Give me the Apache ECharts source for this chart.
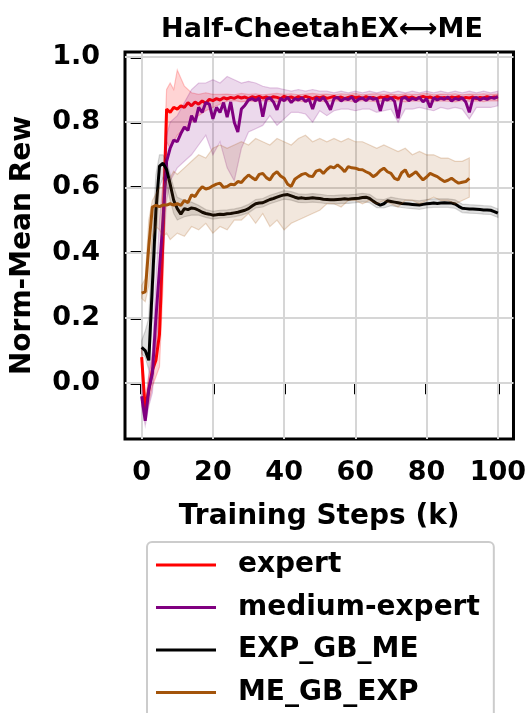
<!DOCTYPE html>
<html lang="en">
<head>
    <meta charset="UTF-8">
    <title>Half-Cheetah EX/ME</title>
    <script src="https://cdn.jsdelivr.net/npm/echarts@6.0.0/dist/echarts.min.js"></script>
    <style>
        html, body { margin: 0; padding: 0; background: #fff; }
        #chart1 { width: 529px; height: 713px; }
    </style>
</head>
<body>
<div id="chart1"></div>
<script type="text/javascript">
    // training steps (k) for the mean curves
    var steps = [];
    for (var s = 0; s <= 100; s++) steps.push(s);

    var expert = [0.08, -0.08, -0.02, 0.04, 0.07, 0.15, 0.45, 0.84, 0.83, 0.845,
        0.84, 0.85, 0.845, 0.86, 0.85, 0.862, 0.855, 0.865, 0.858, 0.87,
        0.866, 0.872, 0.868, 0.875, 0.871, 0.876, 0.873, 0.878, 0.874, 0.877,
        0.872, 0.878, 0.875, 0.879, 0.874, 0.877, 0.873, 0.878, 0.876, 0.872,
        0.879, 0.875, 0.877, 0.873, 0.878, 0.874, 0.879, 0.876, 0.872, 0.877,
        0.875, 0.878, 0.873, 0.876, 0.879, 0.874, 0.877, 0.872, 0.876, 0.879,
        0.875, 0.877, 0.873, 0.878, 0.874, 0.876, 0.872, 0.877, 0.875, 0.879,
        0.874, 0.877, 0.873, 0.876, 0.878, 0.874, 0.877, 0.872, 0.876, 0.879,
        0.875, 0.877, 0.873, 0.878, 0.874, 0.876, 0.872, 0.877, 0.875, 0.878,
        0.873, 0.876, 0.874, 0.877, 0.872, 0.876, 0.874, 0.878, 0.875, 0.877, 0.876];

    var mediumExpert = [-0.04, -0.115, -0.02, 0.03, 0.2, 0.35, 0.5, 0.68, 0.72, 0.745,
        0.74, 0.765, 0.785, 0.775, 0.82, 0.80, 0.845, 0.83, 0.86, 0.855,
        0.81, 0.845, 0.83, 0.86, 0.815, 0.862, 0.80, 0.77, 0.84, 0.852,
        0.868, 0.872, 0.866, 0.874, 0.817, 0.87, 0.875, 0.862, 0.838, 0.873,
        0.866, 0.876, 0.86, 0.872, 0.868, 0.875, 0.863, 0.871, 0.84, 0.874,
        0.866, 0.876, 0.86, 0.838, 0.872, 0.876, 0.865, 0.873, 0.869, 0.877,
        0.862, 0.871, 0.874, 0.866, 0.876, 0.87, 0.873, 0.835, 0.872, 0.868,
        0.875, 0.864, 0.812, 0.872, 0.876, 0.866, 0.873, 0.869, 0.876, 0.862,
        0.872, 0.845, 0.875, 0.868, 0.874, 0.87, 0.877, 0.865, 0.873, 0.869,
        0.875, 0.862, 0.83, 0.872, 0.876, 0.868, 0.874, 0.87, 0.876, 0.873, 0.878];

    var expGbMe = [0.11, 0.1, 0.07, 0.3, 0.53, 0.665, 0.674, 0.655, 0.61, 0.56,
        0.535, 0.518, 0.535, 0.532, 0.537, 0.535, 0.53, 0.524, 0.52, 0.518,
        0.515, 0.516, 0.518, 0.517, 0.519, 0.52, 0.522, 0.524, 0.527, 0.53,
        0.535, 0.543, 0.55, 0.552, 0.553, 0.558, 0.563, 0.566, 0.57, 0.574,
        0.577, 0.578, 0.574, 0.57, 0.567, 0.568, 0.566, 0.567, 0.568, 0.567,
        0.566, 0.564, 0.563, 0.562, 0.562, 0.563, 0.564, 0.565, 0.564, 0.565,
        0.566, 0.567, 0.569, 0.57, 0.566, 0.558, 0.551, 0.546, 0.55, 0.559,
        0.557, 0.555, 0.553, 0.551, 0.55, 0.549, 0.548, 0.547, 0.546, 0.548,
        0.55, 0.551, 0.552, 0.551, 0.552, 0.553, 0.552, 0.552, 0.549, 0.542,
        0.536, 0.535, 0.534, 0.534, 0.533, 0.532, 0.531, 0.531, 0.53, 0.526, 0.521];

    // ME_GB_EXP stops at 92k
    var meGbExp = [0.276, 0.28, 0.42, 0.54, 0.545, 0.541, 0.546, 0.546, 0.55, 0.546,
        0.55, 0.545, 0.56, 0.553, 0.577, 0.572, 0.59, 0.602, 0.595, 0.598,
        0.605, 0.61, 0.613, 0.6, 0.603, 0.61, 0.608, 0.618, 0.615, 0.628,
        0.638, 0.63, 0.623, 0.64, 0.643, 0.63, 0.623, 0.64, 0.648, 0.635,
        0.628, 0.61, 0.603, 0.625, 0.633, 0.64, 0.643, 0.635, 0.633, 0.65,
        0.654, 0.643, 0.655, 0.664, 0.66, 0.669, 0.66, 0.648, 0.664, 0.66,
        0.659, 0.655, 0.654, 0.648, 0.643, 0.633, 0.64, 0.652, 0.659, 0.648,
        0.643, 0.628, 0.623, 0.645, 0.654, 0.633, 0.64, 0.648, 0.635, 0.623,
        0.632, 0.643, 0.638, 0.633, 0.625, 0.618, 0.622, 0.628, 0.62, 0.613,
        0.616, 0.618, 0.628];

    // steps for the shaded spread bands
    var bandSteps = [0, 1, 2, 3, 4, 5, 6, 7, 8, 9, 10,
        12, 14, 16, 18, 20, 22, 24, 26, 28, 30, 32, 34, 36, 38, 40,
        42, 44, 46, 48, 50, 52, 54, 56, 58, 60, 62, 64, 66, 68, 70,
        72, 74, 76, 78, 80, 82, 84, 86, 88, 90, 92, 94, 96, 98, 100];

    var expertLo = [0.05, -0.10, -0.06, -0.01, 0.02, 0.05, 0.30, 0.74, 0.72, 0.74, 0.76,
        0.78, 0.80, 0.82, 0.835, 0.845, 0.855, 0.864, 0.866, 0.862, 0.865, 0.863, 0.866, 0.864, 0.862, 0.866,
        0.864, 0.865, 0.862, 0.866, 0.864, 0.863, 0.866, 0.864, 0.865, 0.862, 0.866, 0.864, 0.863, 0.865, 0.864,
        0.866, 0.862, 0.865, 0.864, 0.866, 0.863, 0.865, 0.864, 0.862, 0.866, 0.864, 0.865, 0.863, 0.866, 0.865];
    var expertHi = [0.11, -0.05, 0.02, 0.08, 0.12, 0.30, 0.62, 0.90, 0.92, 0.90, 0.96,
        0.91, 0.89, 0.885, 0.89, 0.885, 0.885, 0.886, 0.884, 0.888, 0.885, 0.887, 0.884, 0.886, 0.888, 0.885,
        0.887, 0.884, 0.886, 0.888, 0.885, 0.886, 0.884, 0.887, 0.885, 0.888, 0.884, 0.886, 0.887, 0.885, 0.886,
        0.884, 0.887, 0.885, 0.886, 0.888, 0.884, 0.886, 0.885, 0.887, 0.884, 0.886, 0.885, 0.887, 0.885, 0.886];

    var mediumExpertLo = [-0.07, -0.13, -0.07, -0.03, 0.10, 0.22, 0.38, 0.56, 0.62, 0.64, 0.66,
        0.68, 0.70, 0.73, 0.76, 0.70, 0.74, 0.66, 0.62, 0.72, 0.77, 0.78, 0.79, 0.82, 0.79, 0.81,
        0.83, 0.83, 0.825, 0.80, 0.835, 0.82, 0.835, 0.84, 0.84, 0.835, 0.84, 0.84, 0.83, 0.835, 0.84,
        0.80, 0.84, 0.84, 0.845, 0.84, 0.835, 0.845, 0.84, 0.845, 0.84, 0.81, 0.845, 0.845, 0.845, 0.85];
    var mediumExpertHi = [0.00, -0.09, 0.03, 0.10, 0.32, 0.50, 0.62, 0.76, 0.80, 0.81, 0.82,
        0.86, 0.90, 0.92, 0.92, 0.93, 0.92, 0.94, 0.93, 0.92, 0.925, 0.92, 0.91, 0.905, 0.905, 0.90,
        0.895, 0.90, 0.895, 0.90, 0.895, 0.895, 0.89, 0.895, 0.89, 0.895, 0.89, 0.895, 0.89, 0.895, 0.89,
        0.895, 0.89, 0.895, 0.89, 0.895, 0.89, 0.895, 0.89, 0.895, 0.89, 0.895, 0.89, 0.895, 0.89, 0.895];

    var expGbMeLo = [0.09, 0.08, 0.04, 0.20, 0.42, 0.60, 0.63, 0.61, 0.56, 0.52, 0.50,
        0.51, 0.515, 0.515, 0.508, 0.503, 0.506, 0.507, 0.510, 0.515, 0.522, 0.537, 0.540, 0.550, 0.557, 0.564,
        0.561, 0.554, 0.553, 0.555, 0.553, 0.550, 0.549, 0.551, 0.551, 0.553, 0.556, 0.553, 0.538, 0.537, 0.544,
        0.540, 0.537, 0.535, 0.533, 0.537, 0.539, 0.539, 0.539, 0.536, 0.523, 0.521, 0.520, 0.518, 0.517, 0.508];
    var expGbMeHi = [0.13, 0.16, 0.20, 0.45, 0.64, 0.70, 0.70, 0.68, 0.64, 0.60, 0.57,
        0.56, 0.555, 0.545, 0.532, 0.527, 0.530, 0.531, 0.534, 0.539, 0.548, 0.563, 0.566, 0.576, 0.583, 0.590,
        0.587, 0.580, 0.579, 0.581, 0.579, 0.576, 0.575, 0.577, 0.577, 0.579, 0.582, 0.579, 0.564, 0.563, 0.570,
        0.566, 0.563, 0.561, 0.559, 0.563, 0.565, 0.565, 0.565, 0.562, 0.549, 0.547, 0.546, 0.544, 0.543, 0.534];

    var meGbExpLo = [0.26, 0.25, 0.30, 0.45, 0.48, 0.47, 0.45, 0.46, 0.44, 0.45, 0.46,
        0.45, 0.48, 0.47, 0.49, 0.46, 0.48, 0.47, 0.50, 0.50, 0.52, 0.49, 0.52, 0.48, 0.50, 0.47,
        0.49, 0.50, 0.51, 0.52, 0.53, 0.55, 0.55, 0.54, 0.56, 0.56, 0.55, 0.56, 0.55, 0.56, 0.55,
        0.54, 0.56, 0.56, 0.55, 0.56, 0.57, 0.56, 0.56, 0.55, 0.56, 0.57];
    var meGbExpHi = [0.30, 0.32, 0.50, 0.56, 0.58, 0.60, 0.60, 0.62, 0.63, 0.65, 0.64,
        0.66, 0.68, 0.70, 0.69, 0.72, 0.73, 0.72, 0.73, 0.74, 0.73, 0.75, 0.74, 0.73, 0.75, 0.74,
        0.73, 0.75, 0.76, 0.74, 0.75, 0.74, 0.75, 0.74, 0.75, 0.74, 0.74, 0.73, 0.72, 0.73, 0.72,
        0.71, 0.72, 0.70, 0.71, 0.70, 0.70, 0.69, 0.69, 0.68, 0.68, 0.69];

    var xTicks = [0, 20, 40, 60, 80, 100];
    var yTicks = [0, 0.2, 0.4, 0.6, 0.8, 1.0];

    var names = ['expert', 'medium-expert', 'EXP_GB_ME', 'ME_GB_EXP'];
    var colors = ['#ff0000', '#800080', '#000000', '#a3540b'];
    var fills = ['rgba(255,0,0,0.17)', 'rgba(128,0,128,0.15)', 'rgba(0,0,0,0.12)', 'rgba(163,84,11,0.14)'];
    var edges = ['rgba(255,0,0,0.22)', 'rgba(128,0,128,0.2)', 'rgba(0,0,0,0.15)', 'rgba(163,84,11,0.22)'];

    var FONT = 'DejaVu Sans';

    function pairs(xs, ys) {
        var out = [];
        for (var i = 0; i < ys.length; i++) out.push([xs[i], ys[i]]);
        return out;
    }

    function band(idx, lo, hi, z) {
        var rows = [];
        for (var i = 0; i < lo.length; i++) rows.push([bandSteps[i], lo[i], hi[i]]);
        return {
            type: 'custom',
            name: names[idx] + ' band',
            coordinateSystem: 'cartesian2d',
            silent: true,
            z: z,
            data: rows,
            encode: { x: 0, y: [1, 2] },
            renderItem: function (params, api) {
                if (params.dataIndex !== 0) return null;
                var pts = [];
                for (var i = 0; i < rows.length; i++) pts.push(api.coord([rows[i][0], rows[i][2]]));
                for (var j = rows.length - 1; j >= 0; j--) pts.push(api.coord([rows[j][0], rows[j][1]]));
                return {
                    type: 'polygon',
                    shape: { points: pts },
                    style: { fill: fills[idx], stroke: edges[idx], lineWidth: 1.2 }
                };
            }
        };
    }

    function line(idx, ys, z) {
        return {
            type: 'line',
            name: names[idx],
            data: pairs(steps, ys),
            symbol: 'none',
            z: z,
            lineStyle: { color: colors[idx], width: 3 },
            itemStyle: { color: colors[idx] }
        };
    }

    var gridLines = [];
    xTicks.forEach(function (v) { gridLines.push({ xAxis: v }); });
    yTicks.forEach(function (v) { gridLines.push({ yAxis: v }); });

    var myChart1 = echarts.init(document.getElementById('chart1'));
    myChart1.setOption({
        animation: false,
        backgroundColor: '#ffffff',
        title: {
            text: 'Half-CheetahEX\u27F7ME',
            left: 317,
            top: 11,
            textAlign: 'center',
            textStyle: { fontFamily: FONT, fontWeight: 'bold', fontSize: 27, color: '#000' }
        },
        grid: {
            left: 125, right: 15, top: 52, bottom: 274,
            show: true, borderColor: '#000', borderWidth: 3, backgroundColor: 'transparent'
        },
        legend: {
            data: names,
            orient: 'vertical',
            left: 147,
            top: 542,
            height: 230,
            padding: [8, 14, 40, 9],
            icon: 'rect',
            itemWidth: 60,
            itemHeight: 3,
            itemGap: 12.5,
            borderColor: '#cccccc',
            borderWidth: 2,
            borderRadius: 5,
            backgroundColor: '#ffffff',
            textStyle: {
                fontFamily: FONT, fontWeight: 'bold', fontSize: 28, color: '#000',
                lineHeight: 30, padding: [0, 0, 0, 17]
            }
        },
        xAxis: {
            type: 'value',
            min: -4.68,
            max: 104.4,
            name: 'Training Steps (k)',
            nameLocation: 'middle',
            nameGap: 64,
            nameTextStyle: { fontFamily: FONT, fontWeight: 'bold', fontSize: 28, color: '#000' },
            axisLine: { show: false },
            axisTick: { show: true, customValues: xTicks, length: 11, lineStyle: { color: '#000', width: 3 } },
            axisLabel: {
                customValues: xTicks, margin: 20,
                fontFamily: FONT, fontWeight: 'bold', fontSize: 27, color: '#000',
                formatter: function (v) { return String(Math.round(v)); }
            },
            splitLine: { show: false }
        },
        yAxis: {
            type: 'value',
            min: -0.171,
            max: 1.015,
            name: 'Norm-Mean Rew',
            nameLocation: 'middle',
            nameGap: 88,
            nameTextStyle: { fontFamily: FONT, fontWeight: 'bold', fontSize: 28, color: '#000' },
            axisLine: { show: false },
            axisTick: { show: true, customValues: yTicks, length: 11, lineStyle: { color: '#000', width: 3 } },
            axisLabel: {
                customValues: yTicks, margin: 25,
                fontFamily: FONT, fontWeight: 'bold', fontSize: 27, color: '#000',
                formatter: function (v) { return v.toFixed(1); }
            },
            splitLine: { show: false }
        },
        series: [
            {
                type: 'line',
                name: 'grid',
                data: [],
                z: 1,
                markLine: {
                    silent: true,
                    symbol: ['none', 'none'],
                    label: { show: false },
                    z: 1,
                    lineStyle: { color: '#d6d6d6', width: 2, type: 'solid' },
                    data: gridLines
                }
            },
            band(0, expertLo, expertHi, 2),
            line(0, expert, 3),
            band(1, mediumExpertLo, mediumExpertHi, 4),
            line(1, mediumExpert, 5),
            band(2, expGbMeLo, expGbMeHi, 6),
            line(2, expGbMe, 7),
            band(3, meGbExpLo, meGbExpHi, 8),
            line(3, meGbExp, 9)
        ]
    });
</script>
</body>
</html>
